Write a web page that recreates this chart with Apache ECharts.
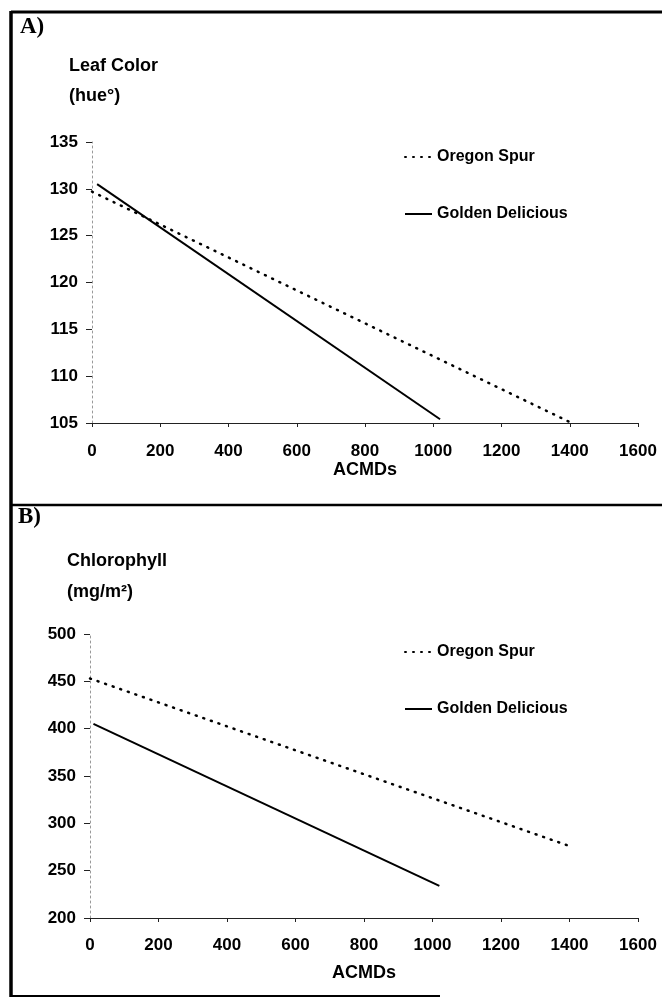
<!DOCTYPE html>
<html>
<head>
<meta charset="utf-8">
<script src="https://cdn.jsdelivr.net/npm/echarts@6/dist/echarts.min.js"></script>
<style>
html,body{margin:0;padding:0;background:#fff;}
#chart{width:662px;height:998px;}
</style>
</head>
<body>
<div id="chart"></div>
<script>
// X-axis ticks (ACMDs)
var xTicks = [0, 200, 400, 600, 800, 1000, 1200, 1400, 1600];
// Panel A: Leaf colour (hue°)
var leafOregonX = [0, 1400];
var leafOregonY = [129.7, 105.1];
var leafGoldenX = [15, 1020];
var leafGoldenY = [130.5, 105.4];
// Panel B: Chlorophyll (mg/m2)
var chlOregonX = [0, 1400];
var chlOregonY = [453, 276];
var chlGoldenX = [10, 1020];
var chlGoldenY = [405, 234];
var seriesNames = ['Oregon Spur', 'Golden Delicious'];

function pairs(xs, ys) { return xs.map(function (x, i) { return [x, ys[i]]; }); }

var FONT = '"Liberation Sans", Arial, sans-serif';
var chart = echarts.init(document.getElementById('chart'), null, {renderer: 'canvas'});

function xAxisFor(gi) {
  return {
    type: 'value', gridIndex: gi, min: xTicks[0], max: xTicks[xTicks.length - 1], interval: xTicks[1] - xTicks[0],
    name: 'ACMDs', nameLocation: 'middle', nameGap: gi === 0 ? 36 : 46,
    nameTextStyle: {color: '#000', fontSize: 18, fontWeight: 'bold', fontFamily: FONT},
    axisLine: {show: true, lineStyle: {color: '#222', width: 1}},
    axisTick: {show: true, length: 4, inside: false, lineStyle: {color: '#222'}},
    axisLabel: {color: '#000', fontSize: 17, fontWeight: 'bold', fontFamily: FONT, margin: gi === 0 ? 20 : 19,
      formatter: function (v) { return String(v); }},
    splitLine: {show: false}
  };
}
function yAxisFor(gi, min, max, interval) {
  return {
    type: 'value', gridIndex: gi, min: min, max: max, interval: interval,
    axisLine: {show: true, lineStyle: {color: '#999', width: 1, type: [2, 3]}},
    axisTick: {show: true, length: 6, inside: false, lineStyle: {color: '#222'}},
    axisLabel: {color: '#000', fontSize: 17, fontWeight: 'bold', fontFamily: FONT, margin: 14,
      formatter: function (v) { return String(v); }},
    splitLine: {show: false}
  };
}
var dotted = {color: '#000', width: 2.5, type: [1, 7], cap: 'round'};
var solid = {color: '#000', width: 2};
var legendText = {color: '#000', fontSize: 16, fontFamily: FONT, fontWeight: 'bold'};

var option = {
  backgroundColor: '#fff',
  animation: false,
  grid: [
    {left: 92, top: 142, width: 546, height: 281},
    {left: 90, top: 634, width: 548, height: 284}
  ],
  xAxis: [xAxisFor(0), xAxisFor(1)],
  yAxis: [yAxisFor(0, 105, 135, 5), yAxisFor(1, 200, 500, 50)],
  legend: [
    {orient: 'vertical', left: 399, top: 144, itemWidth: 27, itemHeight: 20, itemGap: 41,
     itemStyle: {opacity: 0}, data: seriesNames, textStyle: legendText},
    {orient: 'vertical', left: 399, top: 639, itemWidth: 27, itemHeight: 20, itemGap: 41,
     itemStyle: {opacity: 0}, data: seriesNames, textStyle: legendText}
  ],
  series: [
    {name: seriesNames[0], type: 'line', xAxisIndex: 0, yAxisIndex: 0, symbol: 'none', data: pairs(leafOregonX, leafOregonY), lineStyle: dotted, itemStyle: {color: '#000'}},
    {name: seriesNames[1], type: 'line', xAxisIndex: 0, yAxisIndex: 0, symbol: 'none', data: pairs(leafGoldenX, leafGoldenY), lineStyle: solid, itemStyle: {color: '#000'}},
    {name: seriesNames[0], type: 'line', xAxisIndex: 1, yAxisIndex: 1, symbol: 'none', data: pairs(chlOregonX, chlOregonY), lineStyle: dotted, itemStyle: {color: '#000'}},
    {name: seriesNames[1], type: 'line', xAxisIndex: 1, yAxisIndex: 1, symbol: 'none', data: pairs(chlGoldenX, chlGoldenY), lineStyle: solid, itemStyle: {color: '#000'}}
  ],
  graphic: [
    {type: 'line', shape: {x1: 11, y1: 12, x2: 662, y2: 12}, style: {stroke: '#000', lineWidth: 3}, silent: true},
    {type: 'line', shape: {x1: 11, y1: 11, x2: 11, y2: 997}, style: {stroke: '#000', lineWidth: 3.5}, silent: true},
    {type: 'line', shape: {x1: 10, y1: 505, x2: 662, y2: 505}, style: {stroke: '#000', lineWidth: 2.5}, silent: true},
    {type: 'line', shape: {x1: 10, y1: 996, x2: 440, y2: 996}, style: {stroke: '#000', lineWidth: 2}, silent: true},
    {type: 'text', left: 20, top: 16, style: {text: 'A)', font: 'bold 23px "Liberation Serif", "Times New Roman", serif', fill: '#000'}},
    {type: 'text', left: 18, top: 506, style: {text: 'B)', font: 'bold 23px "Liberation Serif", "Times New Roman", serif', fill: '#000'}},
    {type: 'text', left: 69, top: 57, style: {text: 'Leaf Color', font: 'bold 18px ' + FONT, fill: '#000'}},
    {type: 'text', left: 69, top: 87, style: {text: '(hue°)', font: 'bold 18px ' + FONT, fill: '#000'}},
    {type: 'text', left: 67, top: 552, style: {text: 'Chlorophyll', font: 'bold 18px ' + FONT, fill: '#000'}},
    {type: 'text', left: 67, top: 583, style: {text: '(mg/m²)', font: 'bold 18px ' + FONT, fill: '#000'}}
  ]
};
chart.setOption(option);
</script>
</body>
</html>
